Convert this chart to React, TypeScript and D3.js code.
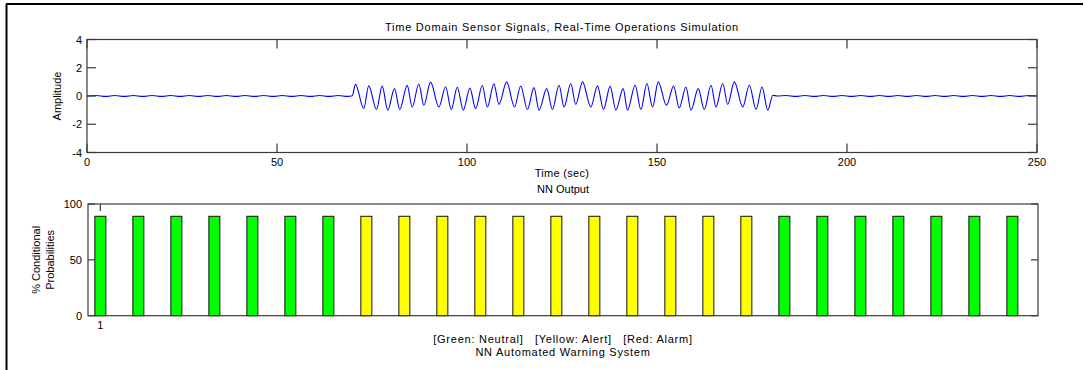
import React from "react";
import * as d3 from "d3";

// ---------- Data ----------
const quietBeforeTimes = [0, 2.4, 4.9, 7.3, 9.8, 12.2, 14.7, 17.1, 19.6, 22.0, 24.5, 26.9, 29.4, 31.8, 34.3, 36.7, 39.2, 41.6, 44.1, 46.5, 49.0, 51.4, 53.9, 56.3, 58.8, 61.2, 63.7, 66.1, 68.6];
const quietBeforeValues = [0, 0.04, -0.03, 0.04, -0.03, 0.04, -0.03, 0.04, -0.03, 0.04, -0.03, 0.04, -0.03, 0.04, -0.03, 0.04, -0.03, 0.04, -0.03, 0.04, -0.03, 0.04, -0.03, 0.04, -0.03, 0.04, -0.03, 0.04, -0.03];

const burstTimes = [
  69.8,
  70.64, 72.83, 74.14, 76.17, 77.68, 79.15, 80.92, 82.31, 84.26, 85.58,
  87.32, 88.64, 90.41, 92.6, 94.36, 95.86, 97.44, 99.02, 100.76, 102.27,
  104.03, 105.35, 107.09, 108.41, 110.44, 112.5, 114.13, 115.89, 117.63, 118.95,
  120.98, 122.48, 124.22, 125.54, 127.31, 128.62, 130.39, 132.58, 134.34, 135.92,
  137.67, 139.17, 141.09, 142.25, 144.25, 145.76, 147.34, 148.84, 150.32, 152.5,
  154.37, 155.85, 157.62, 158.94, 160.86, 162.44, 164.21, 165.52, 167.29, 168.61,
  170.35, 172.56, 174.3, 176.07, 177.64, 179.15,
  180.5,
];
const burstValues = [
  0.02,
  0.82, -0.89, 0.72, -0.96, 0.7, -1.0, 0.52, -0.96, 0.75, -0.78,
  0.85, -0.66, 0.98, -0.78, 0.66, -0.96, 0.62, -1.0, 0.56, -0.89,
  0.74, -0.78, 0.86, -0.6, 1.0, -0.78, 0.71, -0.96, 0.59, -1.0,
  0.52, -0.96, 0.76, -0.78, 0.88, -0.6, 1.0, -0.78, 0.72, -0.96,
  0.68, -1.0, 0.52, -1.0, 0.76, -0.96, 0.88, -0.78, 1.0, -0.66,
  0.7, -0.85, 0.64, -1.0, 0.52, -0.96, 0.76, -0.78, 0.88, -0.6,
  1.0, -0.78, 0.76, -0.96, 0.64, -1.0,
  0.05,
];

const quietAfterTimes = [181.6, 184.0, 186.5, 188.9, 191.4, 193.8, 196.3, 198.7, 201.2, 203.6, 206.1, 208.5, 211.0, 213.4, 215.9, 218.3, 220.8, 223.2, 225.7, 228.1, 230.6, 233.0, 235.5, 237.9, 240.4, 242.8, 245.3, 247.7, 250];
const quietAfterValues = [0.0, 0.04, -0.03, 0.04, -0.03, 0.04, -0.03, 0.04, -0.03, 0.04, -0.03, 0.04, -0.03, 0.04, -0.03, 0.04, -0.03, 0.04, -0.03, 0.04, -0.03, 0.04, -0.03, 0.04, -0.03, 0.04, -0.03, 0.04, 0.0];

const timeTicks = [0, 50, 100, 150, 200, 250];
const ampTicks = [-4, -2, 0, 2, 4];

const barCategories = [1, 2, 3, 4, 5, 6, 7, 8, 9, 10, 11, 12, 13, 14, 15, 16, 17, 18, 19, 20, 21, 22, 23, 24, 25];
const barValues = [89, 89, 89, 89, 89, 89, 89, 89, 89, 89, 89, 89, 89, 89, 89, 89, 89, 89, 89, 89, 89, 89, 89, 89, 89];
const barStates = [
  "Neutral", "Neutral", "Neutral", "Neutral", "Neutral", "Neutral", "Neutral",
  "Alert", "Alert", "Alert", "Alert", "Alert", "Alert", "Alert", "Alert", "Alert", "Alert", "Alert",
  "Neutral", "Neutral", "Neutral", "Neutral", "Neutral", "Neutral", "Neutral",
];
const stateColors: Record<string, string> = { Neutral: "#00ff00", Alert: "#ffff00", Alarm: "#ff0000" };
const probTicks = [0, 50, 100];
const barTickLabels = [1];

const topTitle = "Time Domain Sensor Signals, Real-Time Operations Simulation";
const bottomTitle = "NN Output";
const legendText = "[Green: Neutral]   [Yellow: Alert]   [Red: Alarm]";
const footerText = "NN Automated Warning System";

// ---------- Layout ----------
const W = 1086;
const H = 370;
const FONT = "'Liberation Sans', Arial, Helvetica, sans-serif";
const AX = "#3a3a3a";

export default function App() {
  const top = { left: 87, right: 1037, top: 39.5, bottom: 152.5 };
  const bot = { left: 88, right: 1038, top: 204, bottom: 315.7 };

  const x1 = d3.scaleLinear().domain([0, 250]).range([top.left, top.right]);
  const y1 = d3.scaleLinear().domain([-4, 4]).range([top.bottom, top.top]);

  const times = [...quietBeforeTimes, ...burstTimes, ...quietAfterTimes];
  const values = [...quietBeforeValues, ...burstValues, ...quietAfterValues];
  const pts: [number, number][] = times.map((t, i) => [t, values[i]]);
  const line = d3
    .line<[number, number]>()
    .x((d) => x1(d[0]))
    .y((d) => y1(d[1]))
    .curve(d3.curveMonotoneX);

  const x2 = d3.scaleLinear().domain([0.675, 25.675]).range([bot.left, bot.right]);
  const y2 = d3.scaleLinear().domain([0, 100]).range([bot.bottom, bot.top]);
  const barW = 11;

  const fs = 11;
  const cx = (top.left + top.right) / 2;
  const wide = { letterSpacing: "0.75px", whiteSpace: "pre" as const };

  return (
    <svg
      width={W}
      height={H}
      style={{ position: "absolute", left: 0, top: 0, background: "#fff" }}
      fontFamily={FONT}
      fontSize={fs}
    >
      <rect x={0} y={0} width={W} height={H} fill="#fff" />
      {/* outer frame (top and left) */}
      <line x1={6} y1={4} x2={1083} y2={4} stroke="#000" strokeWidth={2} />
      <line x1={6.5} y1={4} x2={6.5} y2={H} stroke="#000" strokeWidth={2} />

      {/* ---------- Top plot ---------- */}
      <text x={cx} y={31} textAnchor="middle" style={wide}>{topTitle}</text>
      <path d={line(pts) || ""} fill="none" stroke="#0000ff" strokeWidth={1.1} />
      <rect
        x={top.left}
        y={top.top}
        width={top.right - top.left}
        height={top.bottom - top.top}
        fill="none"
        stroke={AX}
        strokeWidth={1.2}
      />
      {timeTicks.map((t) => (
        <g key={"xt" + t}>
          <line x1={x1(t)} x2={x1(t)} y1={top.bottom} y2={top.bottom - 9} stroke={AX} strokeWidth={1.2} />
          <line x1={x1(t)} x2={x1(t)} y1={top.top} y2={top.top + 9} stroke={AX} strokeWidth={1.2} />
          <text x={x1(t)} y={166} textAnchor="middle">{t}</text>
        </g>
      ))}
      {ampTicks.map((v) => (
        <g key={"yt" + v}>
          <line x1={top.left} x2={top.left + 9} y1={y1(v)} y2={y1(v)} stroke={AX} strokeWidth={1.2} />
          <line x1={top.right} x2={top.right - 9} y1={y1(v)} y2={y1(v)} stroke={AX} strokeWidth={1.2} />
          <text x={82} y={y1(v) + 4} textAnchor="end">{v}</text>
        </g>
      ))}
      <text transform={`translate(61,${(top.top + top.bottom) / 2}) rotate(-90)`} textAnchor="middle">
        Amplitude
      </text>
      <text x={cx} y={177} textAnchor="middle" style={{ letterSpacing: "0.3px" }}>Time (sec)</text>

      {/* ---------- Bottom plot ---------- */}
      <text x={(bot.left + bot.right) / 2} y={193} textAnchor="middle">{bottomTitle}</text>
      {barCategories.map((c, i) => (
        <rect
          key={"b" + c}
          x={x2(c) - barW / 2}
          y={y2(barValues[i])}
          width={barW}
          height={y2(0) - y2(barValues[i])}
          fill={stateColors[barStates[i]]}
          stroke="#111"
          strokeWidth={1}
        />
      ))}
      <rect
        x={bot.left}
        y={bot.top}
        width={bot.right - bot.left}
        height={bot.bottom - bot.top}
        fill="none"
        stroke={AX}
        strokeWidth={1.2}
      />
      {probTicks.map((v) => (
        <g key={"pt" + v}>
          <line x1={bot.left} x2={bot.left + 7} y1={y2(v)} y2={y2(v)} stroke={AX} strokeWidth={1.2} />
          <line x1={bot.right} x2={bot.right - 7} y1={y2(v)} y2={y2(v)} stroke={AX} strokeWidth={1.2} />
          <text x={82} y={y2(v) + 4} textAnchor="end">{v}</text>
        </g>
      ))}
      {barTickLabels.map((c) => (
        <g key={"bt" + c}>
          <line x1={x2(c)} x2={x2(c)} y1={bot.top} y2={bot.top + 7} stroke={AX} strokeWidth={1.2} />
          <text x={x2(c)} y={329} textAnchor="middle">{c}</text>
        </g>
      ))}
      <text transform={`translate(40,${(bot.top + bot.bottom) / 2}) rotate(-90)`} textAnchor="middle">
        % Conditional
      </text>
      <text transform={`translate(54,${(bot.top + bot.bottom) / 2}) rotate(-90)`} textAnchor="middle">
        Probabilities
      </text>
      <text x={(bot.left + bot.right) / 2} y={343} textAnchor="middle" style={wide}>
        {legendText}
      </text>
      <text x={(bot.left + bot.right) / 2} y={355.5} textAnchor="middle" style={wide}>{footerText}</text>
    </svg>
  );
}
